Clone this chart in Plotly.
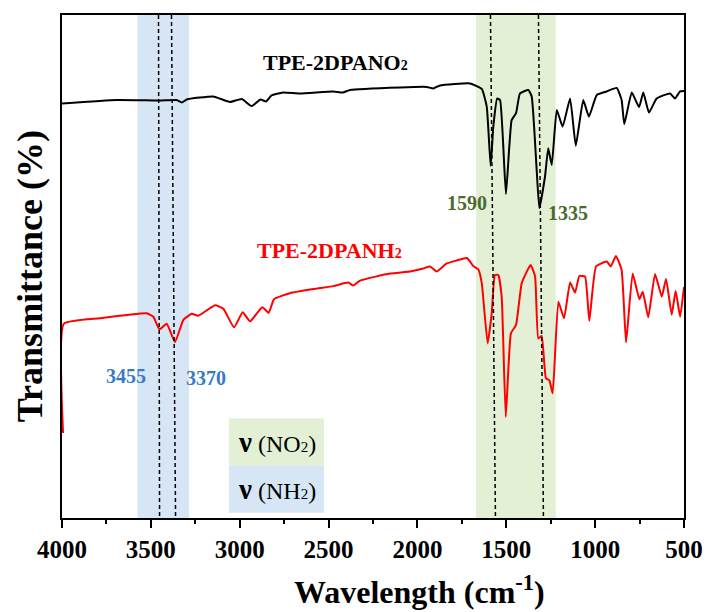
import plotly.graph_objects as go

# ---- data ----
no2_wn = [4000, 3692, 3449, 3355, 3326, 3298, 3149, 3055, 2989, 2933, 2883, 2852, 2821,
          2756, 2661, 2475, 2419, 2379, 2098, 1948, 1911, 1873, 1704, 1638, 1610, 1588,
          1573, 1551, 1535, 1502, 1470, 1445, 1423, 1376, 1357, 1329, 1314, 1282, 1264,
          1244, 1216, 1183, 1141, 1109, 1067, 1035, 991, 935, 879, 851, 836, 794, 753,
          729, 697, 654, 579, 551, 522, 500]
no2_t = [82.4, 83.1, 83.0, 83.1, 82.6, 83.2, 83.8, 82.7, 83.3, 81.9, 83.2, 82.8, 84.0,
         84.6, 84.4, 84.8, 84.6, 85.1, 85.6, 85.7, 85.4, 86.0, 86.4, 85.3, 81.8, 70.0,
         77.8, 83.4, 83.1, 64.4, 79.1, 80.5, 84.4, 85.1, 83.8, 69.2, 61.6, 67.9, 73.5,
         70.2, 81.1, 77.8, 83.4, 74.0, 83.1, 79.8, 84.1, 84.8, 85.5, 83.1, 78.3, 84.6, 81.7,
         84.6, 80.6, 83.4, 84.4, 83.4, 84.8, 84.9]

nh2_wn = [3994, 3990, 3786, 3523, 3486, 3452, 3411, 3364, 3317, 3270, 3233, 3139, 3092,
          3032, 2983, 2942, 2873, 2837, 2807, 2717, 2567, 2473, 2389, 2361, 2323, 2154,
          2042, 1967, 1929, 1892, 1835, 1779, 1721, 1686, 1657, 1638, 1605, 1582, 1564,
          1545, 1526, 1503, 1474, 1445, 1413, 1363, 1338, 1320, 1301, 1277, 1258, 1239,
          1207, 1175, 1141, 1113, 1089, 1057, 1033, 995, 935, 912, 883, 851, 826, 789,
          751, 732, 701, 663, 625, 601, 569, 547, 522, 500]
nh2_t = [16.9, 38.6, 39.7, 40.7, 40.0, 37.5, 38.6, 35.0, 39.4, 40.6, 40.2, 42.3, 41.6,
         37.9, 40.9, 39.1, 41.9, 40.8, 43.5, 44.7, 45.6, 46.1, 46.8, 46.2, 47.2, 48.6,
         49.0, 49.6, 50.0, 49.0, 50.6, 51.2, 51.7, 50.1, 49.4, 46.7, 34.7, 40.7, 48.3,
         48.3, 44.0, 20.1, 36.7, 38.4, 46.7, 50.3, 48.0, 35.7, 36.2, 27.8, 27.4, 24.8,
         43.0, 39.7, 46.8, 44.8, 48.1, 48.0, 39.2, 50.0, 51.0, 50.0, 52.1, 49.3, 34.9, 48.6,
         43.5, 45.0, 39.9, 48.5, 44.0, 47.5, 40.4, 45.2, 40.0, 45.9]

x_ticks = [4000, 3500, 3000, 2500, 2000, 1500, 1000, 500]
nh_band = (3575, 3285)
no_band = (1670, 1222)
peak_labels_nh = ["3455", "3370"]
peak_labels_no = ["1590", "1335"]

SERIF = "Times New Roman, Liberation Serif, serif"

fig = go.Figure()
fig.add_trace(go.Scatter(x=no2_wn, y=no2_t, mode="lines",
                         line=dict(color="black", width=2, shape="spline", smoothing=0.4),
                         showlegend=False))
fig.add_trace(go.Scatter(x=nh2_wn, y=nh2_t, mode="lines",
                         line=dict(color="#ff0000", width=2, shape="spline", smoothing=0.4),
                         showlegend=False))

BLUE_FILL = "#d7e6f4"
GREEN_FILL = "#e3f0d5"

# shaded bands
fig.add_shape(type="rect", xref="x", yref="paper", x0=nh_band[0], x1=nh_band[1], y0=0, y1=1,
              fillcolor=BLUE_FILL, line_width=0, layer="below")
fig.add_shape(type="rect", xref="x", yref="paper", x0=no_band[0], x1=no_band[1], y0=0, y1=1,
              fillcolor=GREEN_FILL, line_width=0, layer="below")

# dashed marker lines (slightly slanted as in the picture)
for top, bot in [(3457, 3451), (3384, 3361), (1589, 1561), (1319, 1291)]:
    fig.add_shape(type="line", xref="x", yref="paper", x0=top, x1=bot, y0=1, y1=0,
                  line=dict(color="black", width=1.5, dash="4px,3px"), layer="above")

# legend boxes
fig.add_shape(type="rect", xref="x", yref="paper", x0=3060, x1=2526, y0=0.104, y1=0.198,
              fillcolor=GREEN_FILL, line_width=0, layer="below")
fig.add_shape(type="rect", xref="x", yref="paper", x0=3060, x1=2526, y0=0.0105, y1=0.104,
              fillcolor=BLUE_FILL, line_width=0, layer="below")

def ann(text, x, y, color, size, xref="x", angle=0):
    fig.add_annotation(text=text, x=x, y=y, xref=xref, yref="paper", showarrow=False,
                       font=dict(family=SERIF, size=size, color=color), textangle=angle,
                       xanchor="center", yanchor="middle")

def sub2(size):
    return f"<span style='font-size:{size}px'>2</span>"

ann("<b style='font-size:29px'>ν</b> (NO" + sub2(15) + ")", 2793, 0.151, "black", 24)
ann("<b style='font-size:29px'>ν</b> (NH" + sub2(15) + ")", 2793, 0.058, "black", 24)
ann("<b>TPE-2DPANO" + sub2(14) + "</b>", 2462, 0.905, "black", 22)
ann("<b>TPE-2DPANH" + sub2(14) + "</b>", 2495, 0.532, "#ff0000", 22)
ann("<b>" + peak_labels_no[0] + "</b>", 1721, 0.627, "#4a6b2c", 20)
ann("<b>" + peak_labels_no[1] + "</b>", 1155, 0.607, "#4a6b2c", 20)
ann("<b>" + peak_labels_nh[0] + "</b>", 3640, 0.282, "#3a7bbf", 20)
ann("<b>" + peak_labels_nh[1] + "</b>", 3190, 0.278, "#3a7bbf", 20)

# axis titles
ann("<b>Wavelength (cm<sup>-1</sup>)</b>", 0.574, -0.143, "black", 32, xref="paper")
ann("<b>Transmittance (%)</b>", -0.052, 0.48, "black", 36, xref="paper", angle=-90)

fig.update_layout(
    width=707, height=612,
    margin=dict(l=62, r=23, t=15, b=94),
    plot_bgcolor="white", paper_bgcolor="white",
    font=dict(family=SERIF, color="black"),
)
fig.update_xaxes(
    range=[4000, 500], tickvals=x_ticks, ticktext=[f"<b>{v}</b>" for v in x_ticks],
    tickfont=dict(family=SERIF, size=25, color="black"), ticklabeloverflow="allow",
    ticks="outside", ticklen=8, tickwidth=2, tickcolor="black",
    minor=dict(dtick=250, ticks="outside", ticklen=4, tickwidth=2, tickcolor="black"),
    showline=True, linewidth=2, linecolor="black", mirror=True, showgrid=False, zeroline=False,
    automargin=False,
)
fig.update_yaxes(
    range=[0, 100], showticklabels=False, ticks="",
    showline=True, linewidth=2, linecolor="black", mirror=True, showgrid=False, zeroline=False,
    automargin=False,
)

# remove the default 8px page margin so the figure fills the window exactly
fig.write_html("out.html", config={"displayModeBar": False},
               post_script="document.body.style.margin='0';document.body.style.overflow='hidden';")
